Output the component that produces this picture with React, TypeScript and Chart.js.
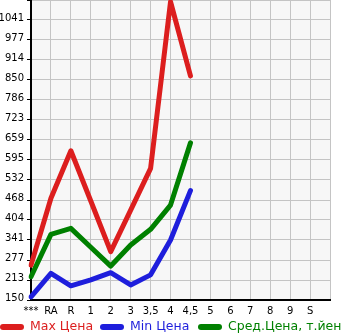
import React, { useEffect, useRef } from "react";
import { Chart, registerables } from "chart.js";

Chart.register(...registerables);

const xLabels = ["***", "RA", "R", "1", "2", "3", "3,5", "4", "4,5", "5", "6", "7", "8", "9", "S"];
const maxPrice = [261, 474, 625, 465, 304, 436, 569, 1099, 863];
const minPrice = [160, 235, 195, 214, 237, 198, 230, 341, 498];
const avgPrice = [224, 359, 378, 318, 258, 325, 375, 452, 650];
const yTickLabels = ["150", "213", "277", "341", "404", "468", "532", "595", "659", "723", "786", "850", "914", "977", "1041"];
const yMin = 150;
const yStep = 63.64;
const seriesNames = ["Max Цена", "Min Цена", "Сред.Цена, т.йен"];
const seriesColors = ["#dc1e1e", "#1e1edc", "#008000"];

const FONT = "'DejaVu Sans', sans-serif";

const legendPlugin = {
  id: "customLegend",
  afterDraw(chart: any) {
    const ctx = chart.ctx;
    ctx.save();
    const y = 327;
    const starts = [0, 100, 198];
    chart.data.datasets.forEach((ds: any, i: number) => {
      const x0 = starts[i];
      ctx.strokeStyle = ds.borderColor;
      ctx.lineWidth = 6;
      ctx.lineCap = "round";
      ctx.beginPath();
      ctx.moveTo(x0 + 3, y);
      ctx.lineTo(x0 + 21, y);
      ctx.stroke();
      ctx.fillStyle = ds.borderColor;
      ctx.font = `12.5px ${FONT}`;
      ctx.textBaseline = "middle";
      ctx.textAlign = "left";
      ctx.fillText(ds.label, x0 + 30, y);
    });
    ctx.restore();
  },
};

export default function App() {
  const ref = useRef<HTMLCanvasElement>(null);
  useEffect(() => {
    document.body.style.margin = "0";
    const yTicks = yTickLabels.map((_, i) => yMin + i * yStep);
    const yMax = yMin + yTickLabels.length * yStep;
    const chart = new Chart(ref.current!, {
      type: "line",
      data: {
        labels: [...xLabels, ""],
        datasets: [maxPrice, minPrice, avgPrice].map((d, i) => ({
          label: seriesNames[i],
          data: d,
          borderColor: seriesColors[i],
          backgroundColor: seriesColors[i],
          borderWidth: 5,
          pointRadius: 0,
          tension: 0,
          borderCapStyle: "round",
          borderJoinStyle: "round",
        })),
      },
      options: {
        responsive: false,
        animation: false,
        devicePixelRatio: 1,
        layout: { padding: { top: 0, right: 15, bottom: 0, left: 0 } },
        plugins: { legend: { display: false }, tooltip: { enabled: false } },
        scales: {
          x: {
            type: "category",
            offset: false,
            grid: { color: "#c4c4c4", lineWidth: 1, drawTicks: false },
            border: { color: "#000", width: 2 },
            ticks: {
              autoSkip: false,
              maxRotation: 0,
              color: "#000",
              font: { family: FONT, size: 10 },
              padding: 5,
            },
            afterFit: (s: any) => {
              s.height = 35;
              s.paddingLeft = 0;
              s.paddingRight = 0;
            },
          },
          y: {
            min: yMin,
            max: yMax,
            afterBuildTicks: (s: any) => {
              s.ticks = [...yTicks, yMax].map((v) => ({ value: v }));
            },
            grid: { color: "#c4c4c4", lineWidth: 1, tickColor: "#000", tickLength: 4 },
            border: { color: "#000", width: 2 },
            ticks: {
              color: "#000",
              font: { family: FONT, size: 10 },
              padding: 3,
              labelOffset: -2,
              callback: (_v: any, i: number) => yTickLabels[i] ?? "",
            },
            afterFit: (s: any) => {
              s.width = 31;
              s.paddingTop = 0;
              s.paddingBottom = 0;
            },
          },
        },
      },
      plugins: [
        {
          id: "bg",
          beforeDraw(chart: any) {
            const { ctx, chartArea } = chart;
            ctx.save();
            ctx.fillStyle = "#f7f7f7";
            ctx.fillRect(chartArea.left, chartArea.top, chartArea.right - chartArea.left, chartArea.bottom - chartArea.top);
            ctx.restore();
          },
        },
        legendPlugin,
      ],
    } as any);
    return () => chart.destroy();
  }, []);
  return <canvas ref={ref} width={345} height={335} style={{ display: "block", width: 345, height: 335 }} />;
}
